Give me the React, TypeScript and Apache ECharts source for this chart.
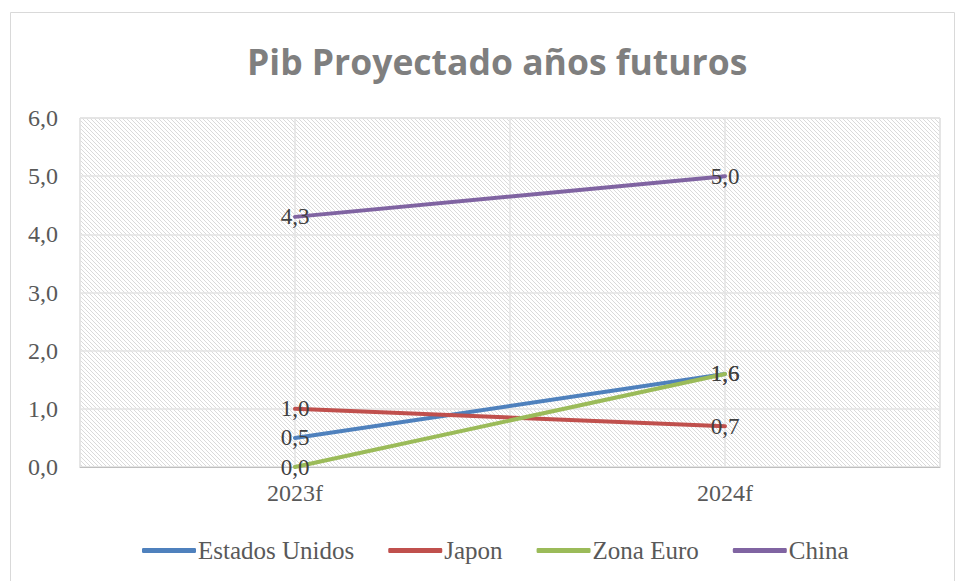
import React, { useEffect, useRef } from "react";
import * as echarts from "echarts";

const categories = ["2023f", "2024f"];
const seriesNames = ["Estados Unidos", "Japon", "Zona Euro", "China"];
const estadosUnidos = [0.5, 1.6];
const japon = [1.0, 0.7];
const zonaEuro = [0.0, 1.6];
const china = [4.3, 5.0];
const colors = ["#4F81BD", "#C0504D", "#9BBB59", "#8064A2"];
const yTicks = { min: 0, max: 6, interval: 1 };

function makeHatch(): HTMLCanvasElement {
  const c = document.createElement("canvas");
  c.width = 4;
  c.height = 4;
  const ctx = c.getContext("2d")!;
  ctx.fillStyle = "#ffffff";
  ctx.fillRect(0, 0, 4, 4);
  ctx.strokeStyle = "#d6d6d6";
  ctx.lineWidth = 0.9;
  ctx.beginPath();
  ctx.moveTo(-1, -1);
  ctx.lineTo(5, 5);
  ctx.moveTo(-1, 3);
  ctx.lineTo(1, 5);
  ctx.moveTo(3, -1);
  ctx.lineTo(5, 1);
  ctx.stroke();
  return c;
}

export default function App() {
  const ref = useRef<HTMLDivElement>(null);
  useEffect(() => {
    const chart = echarts.init(ref.current!, null, { renderer: "svg" });
    const data = [estadosUnidos, japon, zonaEuro, china];
    const hatch = makeHatch();
    const labelFont = "Liberation Serif";
    chart.setOption({
      animation: false,
      backgroundColor: "#ffffff",
      title: {
        text: "Pib Proyectado años futuros",
        left: 242,
        top: 38,
        textStyle: {
          fontFamily: "Open Sans",
          fontWeight: "bold",
          fontSize: 35.5,
          color: "#7f7f7f",
        },
      },
      graphic: [
        {
          type: "rect",
          shape: { x: 10.5, y: 12.5, width: 944, height: 600 },
          style: { fill: "none", stroke: "#d9d9d9", lineWidth: 1 },
          silent: true,
          z: -1,
        },
      ],
      grid: {
        left: 80,
        right: 17,
        top: 118,
        bottom: 114,
        show: true,
        backgroundColor: { image: hatch, repeat: "repeat" },
        borderColor: "#d9d9d9",
        borderWidth: 1,
      },
      legend: {
        top: 533,
        left: 137,
        data: seriesNames,
        itemWidth: 54,
        itemHeight: 5,
        itemGap: 34,
        icon: "roundRect",
        textStyle: {
          fontFamily: labelFont,
          fontSize: 25,
          color: "#595959",
          padding: [0, 0, 0, -3],
        },
      },
      xAxis: [
        {
          type: "category",
          data: categories,
          boundaryGap: true,
          axisLine: { show: true, lineStyle: { color: "#bfbfbf", width: 1 } },
          axisTick: { show: false },
          splitLine: { show: false },
          axisLabel: {
            fontFamily: labelFont,
            fontSize: 24,
            color: "#595959",
            margin: 14,
          },
        },
        {
          type: "value",
          min: 0,
          max: 4,
          interval: 1,
          show: true,
          position: "bottom",
          axisLine: { show: false },
          axisTick: { show: false },
          axisLabel: { show: false },
          splitLine: { show: true, lineStyle: { color: "#e3e3e3", width: 1.5 } },
        },
      ],
      yAxis: {
        type: "value",
        min: yTicks.min,
        max: yTicks.max,
        interval: yTicks.interval,
        axisLine: { show: false },
        axisTick: { show: false },
        splitLine: { show: true, lineStyle: { color: "#e3e3e3", width: 1.5 } },
        axisLabel: {
          fontFamily: labelFont,
          fontSize: 24,
          color: "#595959",
          margin: 22,
          formatter: (v: number) => v.toFixed(1).replace(".", ","),
        },
      },
      series: seriesNames.map((name, i) => ({
        name,
        type: "line",
        xAxisIndex: 0,
        data: data[i],
        symbol: "circle",
        symbolSize: 0,
        showSymbol: true,
        lineStyle: { color: colors[i], width: 4, cap: "round" },
        itemStyle: { color: colors[i] },
        label: {
          show: true,
          position: "inside",
          fontFamily: labelFont,
          fontSize: 23,
          color: "#404040",
          formatter: (p: any) => Number(p.value).toFixed(1).replace(".", ","),
        },
        labelLayout: { hideOverlap: false },
      })),
    });
    return () => chart.dispose();
  }, []);
  return (
    <div
      ref={ref}
      style={{ position: "absolute", left: 0, top: 0, width: 957, height: 581 }}
    />
  );
}
